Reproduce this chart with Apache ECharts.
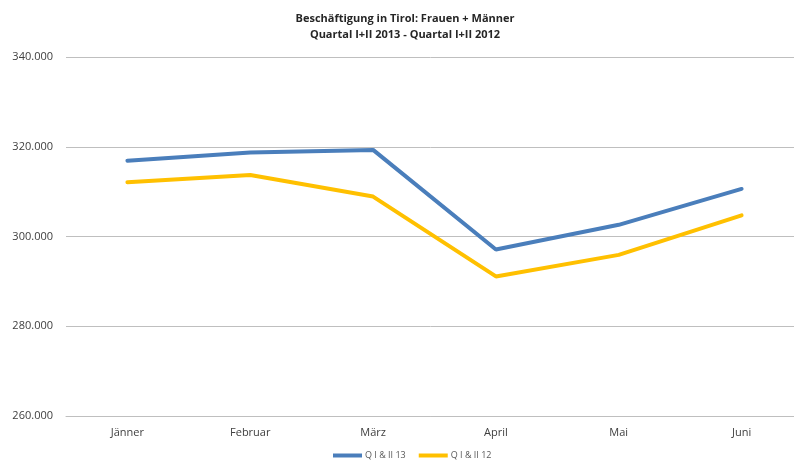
<!DOCTYPE html>
<html>
<head>
<meta charset="utf-8">
<script src="https://cdn.jsdelivr.net/npm/echarts@6/dist/echarts.min.js"></script>
<style>
  html, body { margin: 0; padding: 0; background: #fff; }
  #chart { width: 794px; height: 462px; }
</style>
</head>
<body>
<div id="chart"></div>
<script>
// Beschäftigung in Tirol
const months = ['Jänner', 'Februar', 'März', 'April', 'Mai', 'Juni']
const q13 = [316900, 318700, 319300, 297100, 302600, 310600]
const q12 = [312100, 313700, 308900, 291100, 295900, 304700]
const seriesNames = ['Q I & II 13', 'Q I & II 12']

const myChart = echarts.init(document.getElementById('chart'))
const font = 'Open Sans, Liberation Sans, sans-serif'

const option = {
  animation: false,
  title: {
    text: 'Beschäftigung in Tirol: Frauen + Männer\nQuartal I+II 2013 - Quartal I+II 2012',
    left: 400,
    textAlign: 'center',
    top: 6,
    textStyle: {
      fontFamily: font,
      fontSize: 11,
      fontWeight: 'bold',
      color: '#262626',
      lineHeight: 16,
    },
  },
  legend: {
    top: 451,
    left: 333,
    padding: 0,
    itemWidth: 29,
    itemHeight: 4,
    itemGap: 13,
    icon: 'rect',
    textStyle: { fontFamily: font, fontSize: 9, color: '#595959', padding: [0, 0, 0, -2] },
    data: seriesNames,
  },
  grid: {
    left: 66,
    top: 57,
    width: 737,
    height: 359,
    outerBoundsMode: 'none',
  },
  xAxis: {
    type: 'category',
    data: months,
    boundaryGap: true,
    axisLine: { lineStyle: { color: '#bfbfbf', width: 1 } },
    axisTick: { show: false },
    axisLabel: { fontFamily: font, fontSize: 11, color: '#404040', margin: 11 },
  },
  yAxis: {
    type: 'value',
    min: 260000,
    max: 340000,
    interval: 20000,
    axisLine: { show: false },
    axisTick: { show: false },
    splitLine: { lineStyle: { color: '#bfbfbf', width: 1 } },
    axisLabel: {
      fontFamily: font,
      fontSize: 11,
      color: '#404040',
      margin: 13,
      formatter: function (value) {
        return value / 1000 + '.000'
      },
    },
  },
  series: [
    {
      name: seriesNames[0],
      type: 'line',
      data: q13,
      symbol: 'none',
      lineStyle: { width: 4, color: '#4a7ebb', cap: 'round' },
      itemStyle: { color: '#4a7ebb' },
    },
    {
      name: seriesNames[1],
      type: 'line',
      data: q12,
      symbol: 'none',
      lineStyle: { width: 4, color: '#ffc000', cap: 'round' },
      itemStyle: { color: '#ffc000' },
    },
  ],
}

option && myChart.setOption(option)
</script>
</body>
</html>
